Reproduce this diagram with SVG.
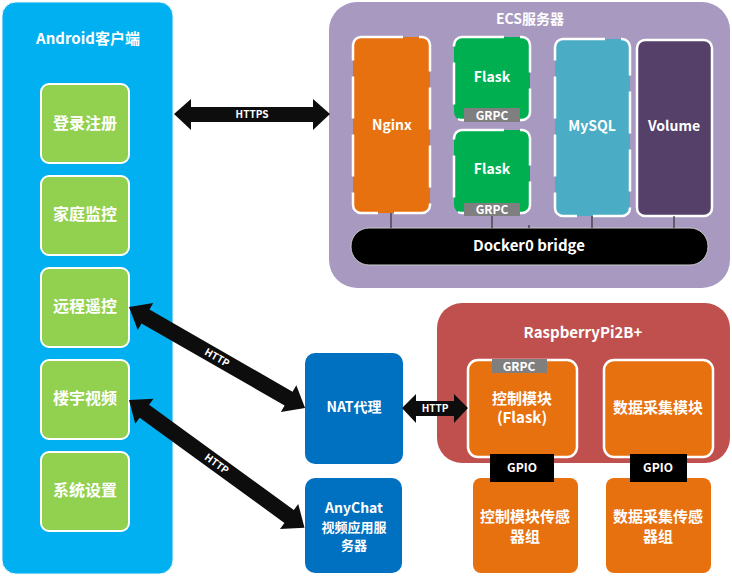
<svg xmlns="http://www.w3.org/2000/svg" width="732" height="578" viewBox="0 0 732 578">
<style>
text{font-family:"Noto Sans CJK SC","Liberation Sans",sans-serif;font-weight:bold;fill:#fff;text-anchor:middle;dominant-baseline:central}
.t16{font-size:16px}
.t15{font-size:15px}
.t14{font-size:14px}
.t13{font-size:13px}
.t12{font-size:12px}
.t10{font-size:10px}
.green{fill:#92D050;stroke:#fff;stroke-width:2}
.dash{stroke:#fff;stroke-width:2.5;stroke-dasharray:42 16}
.solidw{stroke:#fff;stroke-width:2.5}
.orange{fill:#E8710F}
.blue{fill:#0070C0}
.grpc{fill:#7F7F7F}
.arrow{fill:#0D0D0D}
.link{stroke:#333;stroke-width:1.2}
</style>
<g id="android">
<rect x="2" y="2" width="171" height="572" rx="14" fill="#00B0F0" stroke="#e6f6fd" stroke-width="1"/>
<text class="t15" x="88" y="37">Android客户端</text>
</g>
<g id="login"><rect class="green" x="41" y="84" width="88" height="79" rx="8"/><text class="t16" x="85" y="122">登录注册</text></g>
<g id="monitor"><rect class="green" x="41" y="176" width="88" height="79" rx="8"/><text class="t16" x="85" y="213">家庭监控</text></g>
<g id="remote"><rect class="green" x="41" y="268" width="88" height="79" rx="8"/><text class="t16" x="85" y="305">远程遥控</text></g>
<g id="video"><rect class="green" x="41" y="360" width="88" height="79" rx="8"/><text class="t16" x="85" y="397">楼宇视频</text></g>
<g id="settings"><rect class="green" x="41" y="452" width="88" height="79" rx="8"/><text class="t16" x="85" y="489">系统设置</text></g>

<g id="ecs">
<rect x="329" y="2" width="401" height="286" rx="28" fill="#A899C0"/>
<text class="t14" x="530" y="18">ECS服务器</text>
</g>
<g id="nginx"><rect class="dash" x="353" y="37" width="77" height="176" rx="8" fill="#E8710F"/><text class="t14" x="392" y="124">Nginx</text></g>
<g id="flask1"><rect class="dash" x="454" y="37" width="76" height="83" rx="8" fill="#00B050"/><text class="t14" x="492" y="76">Flask</text>
<rect class="grpc" x="464" y="108" width="56" height="14"/><text class="t12" x="492" y="114">GRPC</text></g>
<g id="flask2"><rect class="dash" x="454" y="130" width="76" height="83" rx="8" fill="#00B050"/><text class="t14" x="492" y="168">Flask</text>
<rect class="grpc" x="464" y="203" width="56" height="13"/><text class="t12" x="492" y="208">GRPC</text></g>
<g id="mysql"><rect class="dash" x="555" y="39" width="75" height="177" rx="8" fill="#4BACC6"/><text class="t14" x="592" y="125">MySQL</text></g>
<g id="volume"><rect class="solidw" x="637" y="40" width="75" height="176" rx="8" fill="#544069"/><text class="t14" x="674" y="125">Volume</text></g>
<g id="bridge"><rect x="351" y="228" width="357" height="37" rx="18" fill="#000" stroke="#ccc" stroke-width="1"/><text class="t15" x="529" y="244">Docker0 bridge</text></g>

<g id="raspberry">
<rect x="437" y="303" width="293" height="160" rx="25" fill="#C0504D"/>
<text class="t15" x="583" y="331">RaspberryPi2B+</text>
</g>
<g id="control"><rect class="solidw orange" x="468" y="360" width="109" height="97" rx="10"/>
<rect class="grpc" x="492" y="359" width="55" height="14"/><text class="t12" x="519" y="365">GRPC</text>
<text class="t15" x="522" y="397">控制模块</text><text class="t15" x="522" y="416">(Flask)</text></g>
<g id="collect"><rect class="solidw orange" x="604" y="360" width="109" height="97" rx="10"/>
<text class="t15" x="658" y="406">数据采集模块</text></g>
<g id="sensor1"><rect class="orange" x="473" y="478" width="105" height="95" rx="8"/>
<text class="t15" x="525" y="515">控制模块传感</text><text class="t15" x="525" y="535">器组</text></g>
<g id="sensor2"><rect class="orange" x="606" y="478" width="105" height="95" rx="8"/>
<text class="t15" x="658" y="515">数据采集传感</text><text class="t15" x="658" y="535">器组</text></g>
<g id="gpio1"><rect x="490" y="454" width="64" height="28" fill="#000"/><text class="t12" x="522" y="466">GPIO</text></g>
<g id="gpio2"><rect x="630" y="454" width="57" height="28" fill="#000"/><text class="t12" x="658" y="466">GPIO</text></g>

<g id="nat"><rect class="blue" x="305" y="353" width="98" height="111" rx="10"/><text class="t14" x="354" y="406">NAT代理</text></g>
<g id="anychat"><rect class="blue" x="305" y="478" width="97" height="95" rx="10"/>
<text class="t14" x="354" y="507">AnyChat</text><text class="t13" x="354" y="526">视频应用服</text><text class="t13" x="354" y="544">务器</text></g>

<g id="connectors">
<line class="link" x1="391" y1="213" x2="391" y2="228"/>
<line class="link" x1="492" y1="216" x2="492" y2="228"/>
<line class="link" x1="529" y1="225" x2="529" y2="228"/>
<line class="link" x1="592" y1="216" x2="592" y2="228"/>
<line class="link" x1="674" y1="216" x2="674" y2="228"/>
<polygon class="arrow" points="174,114 191,99 191,107 313,107 313,99 330,114 313,130 313,122 191,122 191,130"/>
<text class="t10" x="252" y="113">HTTPS</text>
<g transform="translate(129,307) rotate(29.85)">
<polygon class="arrow" points="0,0 19,-15.5 19,-8 184,-8 184,-15.5 203,0 184,15.5 184,8 19,8 19,15.5"/>
<text class="t10" x="101.5" y="-1">HTTP</text>
</g>
<g transform="translate(129,400) rotate(36.03)">
<polygon class="arrow" points="0,0 19,-15.5 19,-8 198,-8 198,-15.5 217,0 198,15.5 198,8 19,8 19,15.5"/>
<text class="t10" x="108.5" y="-1">HTTP</text>
</g>
<polygon class="arrow" points="402,408 416,394 416,401 454,401 454,394 468,408 454,423 454,416 416,416 416,423"/>
<text class="t10" x="435" y="407">HTTP</text>
</g>
</svg>
